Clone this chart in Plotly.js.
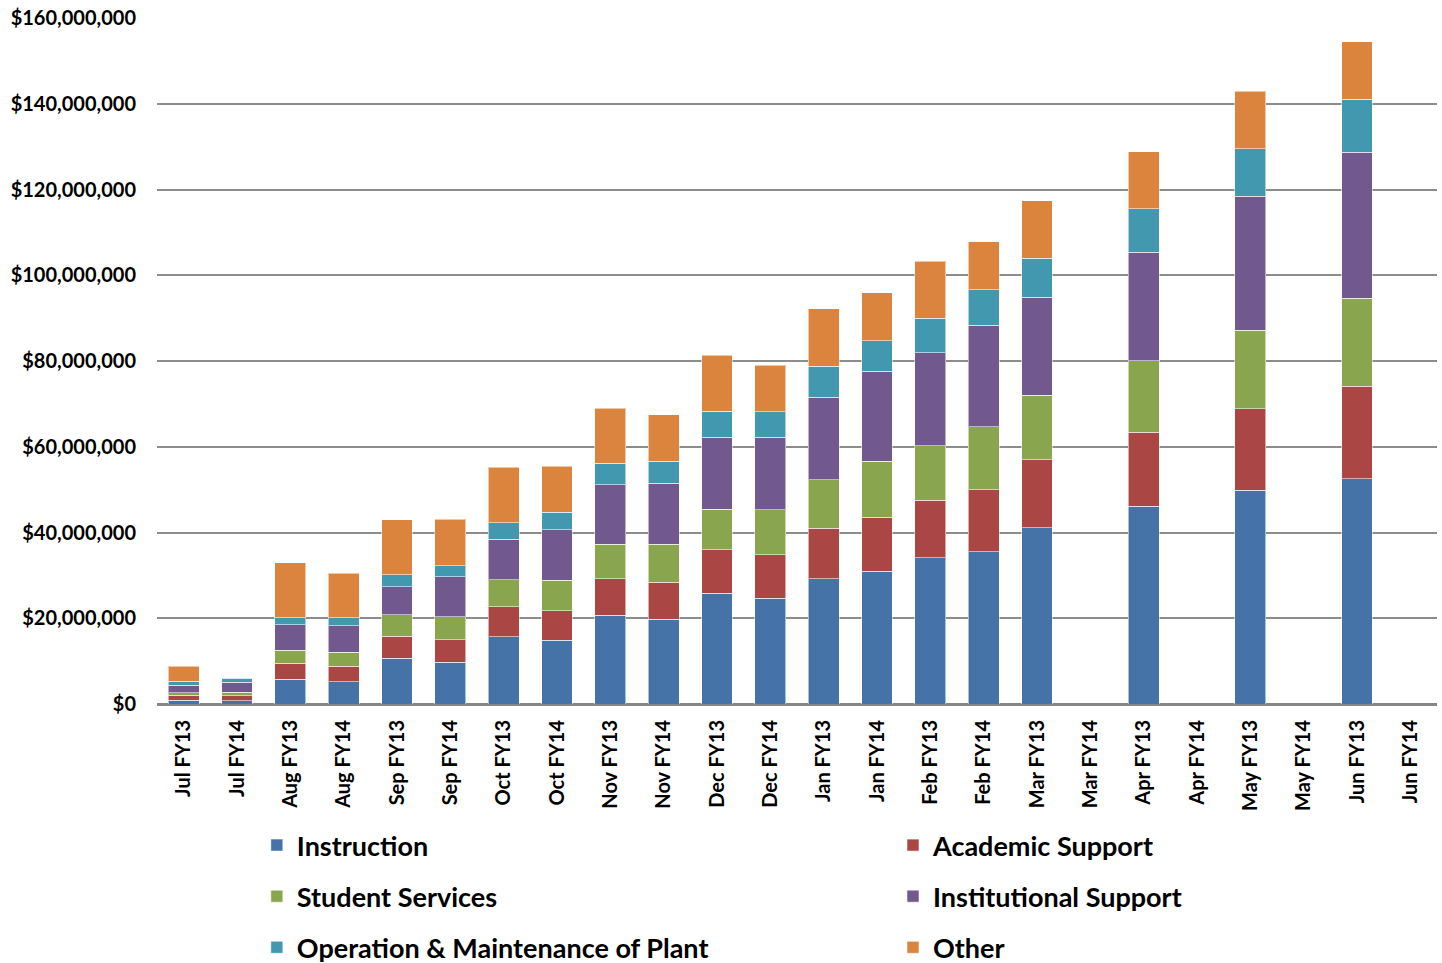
<!DOCTYPE html>
<html>
<head>
<meta charset="utf-8">
<script src="https://cdn.plot.ly/plotly-3.0.1.min.js"></script>
<style>
html,body{margin:0;padding:0;background:#fff;}
#chart{width:1442px;height:963px;}
</style>
</head>
<body>
<div id="chart"></div>
<script>
const categories = ["Jul FY13","Jul FY14","Aug FY13","Aug FY14","Sep FY13","Sep FY14","Oct FY13","Oct FY14","Nov FY13","Nov FY14","Dec FY13","Dec FY14","Jan FY13","Jan FY14","Feb FY13","Feb FY14","Mar FY13","Mar FY14","Apr FY13","Apr FY14","May FY13","May FY14","Jun FY13","Jun FY14"];

const instruction   = [0.93e6,0.78e6,5.81e6,5.19e6,10.62e6,9.77e6,15.74e6,14.88e6,20.70e6,19.77e6,25.81e6,24.65e6,29.24e6,30.95e6,34.06e6,35.46e6,41.14e6,null,46.08e6,null,49.81e6,null,52.53e6,null];
const academic      = [1.10e6,1.16e6,3.64e6,3.57e6,5.19e6,5.27e6,6.98e6,6.90e6,8.53e6,8.60e6,10.16e6,10.16e6,11.74e6,12.60e6,13.45e6,14.46e6,15.78e6,null,17.26e6,null,19.05e6,null,21.54e6,null];
const student       = [0.60e6,0.77e6,3.10e6,3.33e6,4.96e6,5.27e6,6.28e6,7.13e6,8.06e6,8.91e6,9.46e6,10.54e6,11.28e6,13.06e6,12.75e6,14.78e6,15.09e6,null,16.72e6,null,18.36e6,null,20.61e6,null];
const institutional = [1.80e6,2.33e6,5.89e6,6.20e6,6.59e6,9.38e6,9.38e6,11.78e6,13.80e6,14.26e6,16.82e6,16.90e6,19.28e6,20.99e6,21.62e6,23.64e6,22.86e6,null,25.27e6,null,31.18e6,null,33.98e6,null];
const operation     = [0.90e6,0.93e6,1.63e6,1.78e6,2.79e6,2.56e6,3.88e6,4.03e6,5.12e6,5.12e6,6.05e6,5.89e6,7.23e6,7.15e6,8.09e6,8.24e6,9.10e6,null,10.19e6,null,11.12e6,null,12.37e6,null];
const other         = [3.50e6,0.15e6,12.87e6,10.39e6,12.87e6,10.85e6,12.95e6,10.78e6,12.79e6,10.78e6,13.02e6,10.85e6,13.37e6,11.20e6,13.30e6,11.27e6,13.45e6,null,13.30e6,null,13.37e6,null,13.45e6,null];

const yTickVals = [0,20e6,40e6,60e6,80e6,100e6,120e6,140e6,160e6];

const seriesNames = ["Instruction","Academic Support","Student Services","Institutional Support","Operation & Maintenance of Plant","Other"];
const seriesData  = [instruction, academic, student, institutional, operation, other];
const seriesColors = ["#4572A7","#AA4643","#89A54E","#71588F","#4198AF","#DB843D"];
const legendOf = ["legend","legend2","legend","legend2","legend","legend2"];

const FONT = "Lato, 'Open Sans', sans-serif";

const traces = seriesNames.map((n,i)=>({
  type:"bar",
  name:n,
  x:categories,
  y:seriesData[i],
  marker:{color:seriesColors[i], line:{color:"rgba(255,255,255,0.55)", width:1}},
  legend:legendOf[i],
  legendgroup:"g"+i,
  hoverinfo:"x+y+name"
}));

const legendCommon = {
  orientation:"v",
  traceorder:"grouped",
  tracegroupgap:13,
  bgcolor:"rgba(0,0,0,0)",
  font:{family:FONT, size:27, color:"#000", weight:"bold"},
  xanchor:"left",
  yanchor:"top",
  itemclick:false,
  itemdoubleclick:false
};

const layout = {
  width:1442,
  height:963,
  paper_bgcolor:"#fff",
  plot_bgcolor:"#fff",
  margin:{l:157, r:5, t:18, b:259, autoexpand:false},
  barmode:"stack",
  bargap:0.42,
  showlegend:true,
  font:{family:FONT, color:"#000"},
  xaxis:{
    type:"category",
    tickangle:-90,
    ticks:"",
    showgrid:false,
    showline:false,
    automargin:false,
    ticklabelstandoff:11,
    tickfont:{family:FONT, size:20, color:"#000", weight:"bold"},
    fixedrange:true
  },
  yaxis:{
    range:[0,160e6],
    tickvals:yTickVals,
    tickformat:"$,",
    showgrid:true,
    gridcolor:"#8c8c8c",
    gridwidth:1.5,
    zeroline:true,
    zerolinecolor:"#868686",
    zerolinewidth:2.5,
    showline:false,
    automargin:false,
    ticks:"",
    ticklabelstandoff:20,
    tickfont:{family:FONT, size:20, color:"#000", weight:"bold"},
    fixedrange:true
  },
  legend:Object.assign({}, legendCommon, {x:0.078, y:-0.1706}),
  legend2:Object.assign({}, legendCommon, {x:0.575, y:-0.1706})
};

Plotly.newPlot("chart", traces, layout, {displayModeBar:false, staticPlot:false});
</script>
</body>
</html>
